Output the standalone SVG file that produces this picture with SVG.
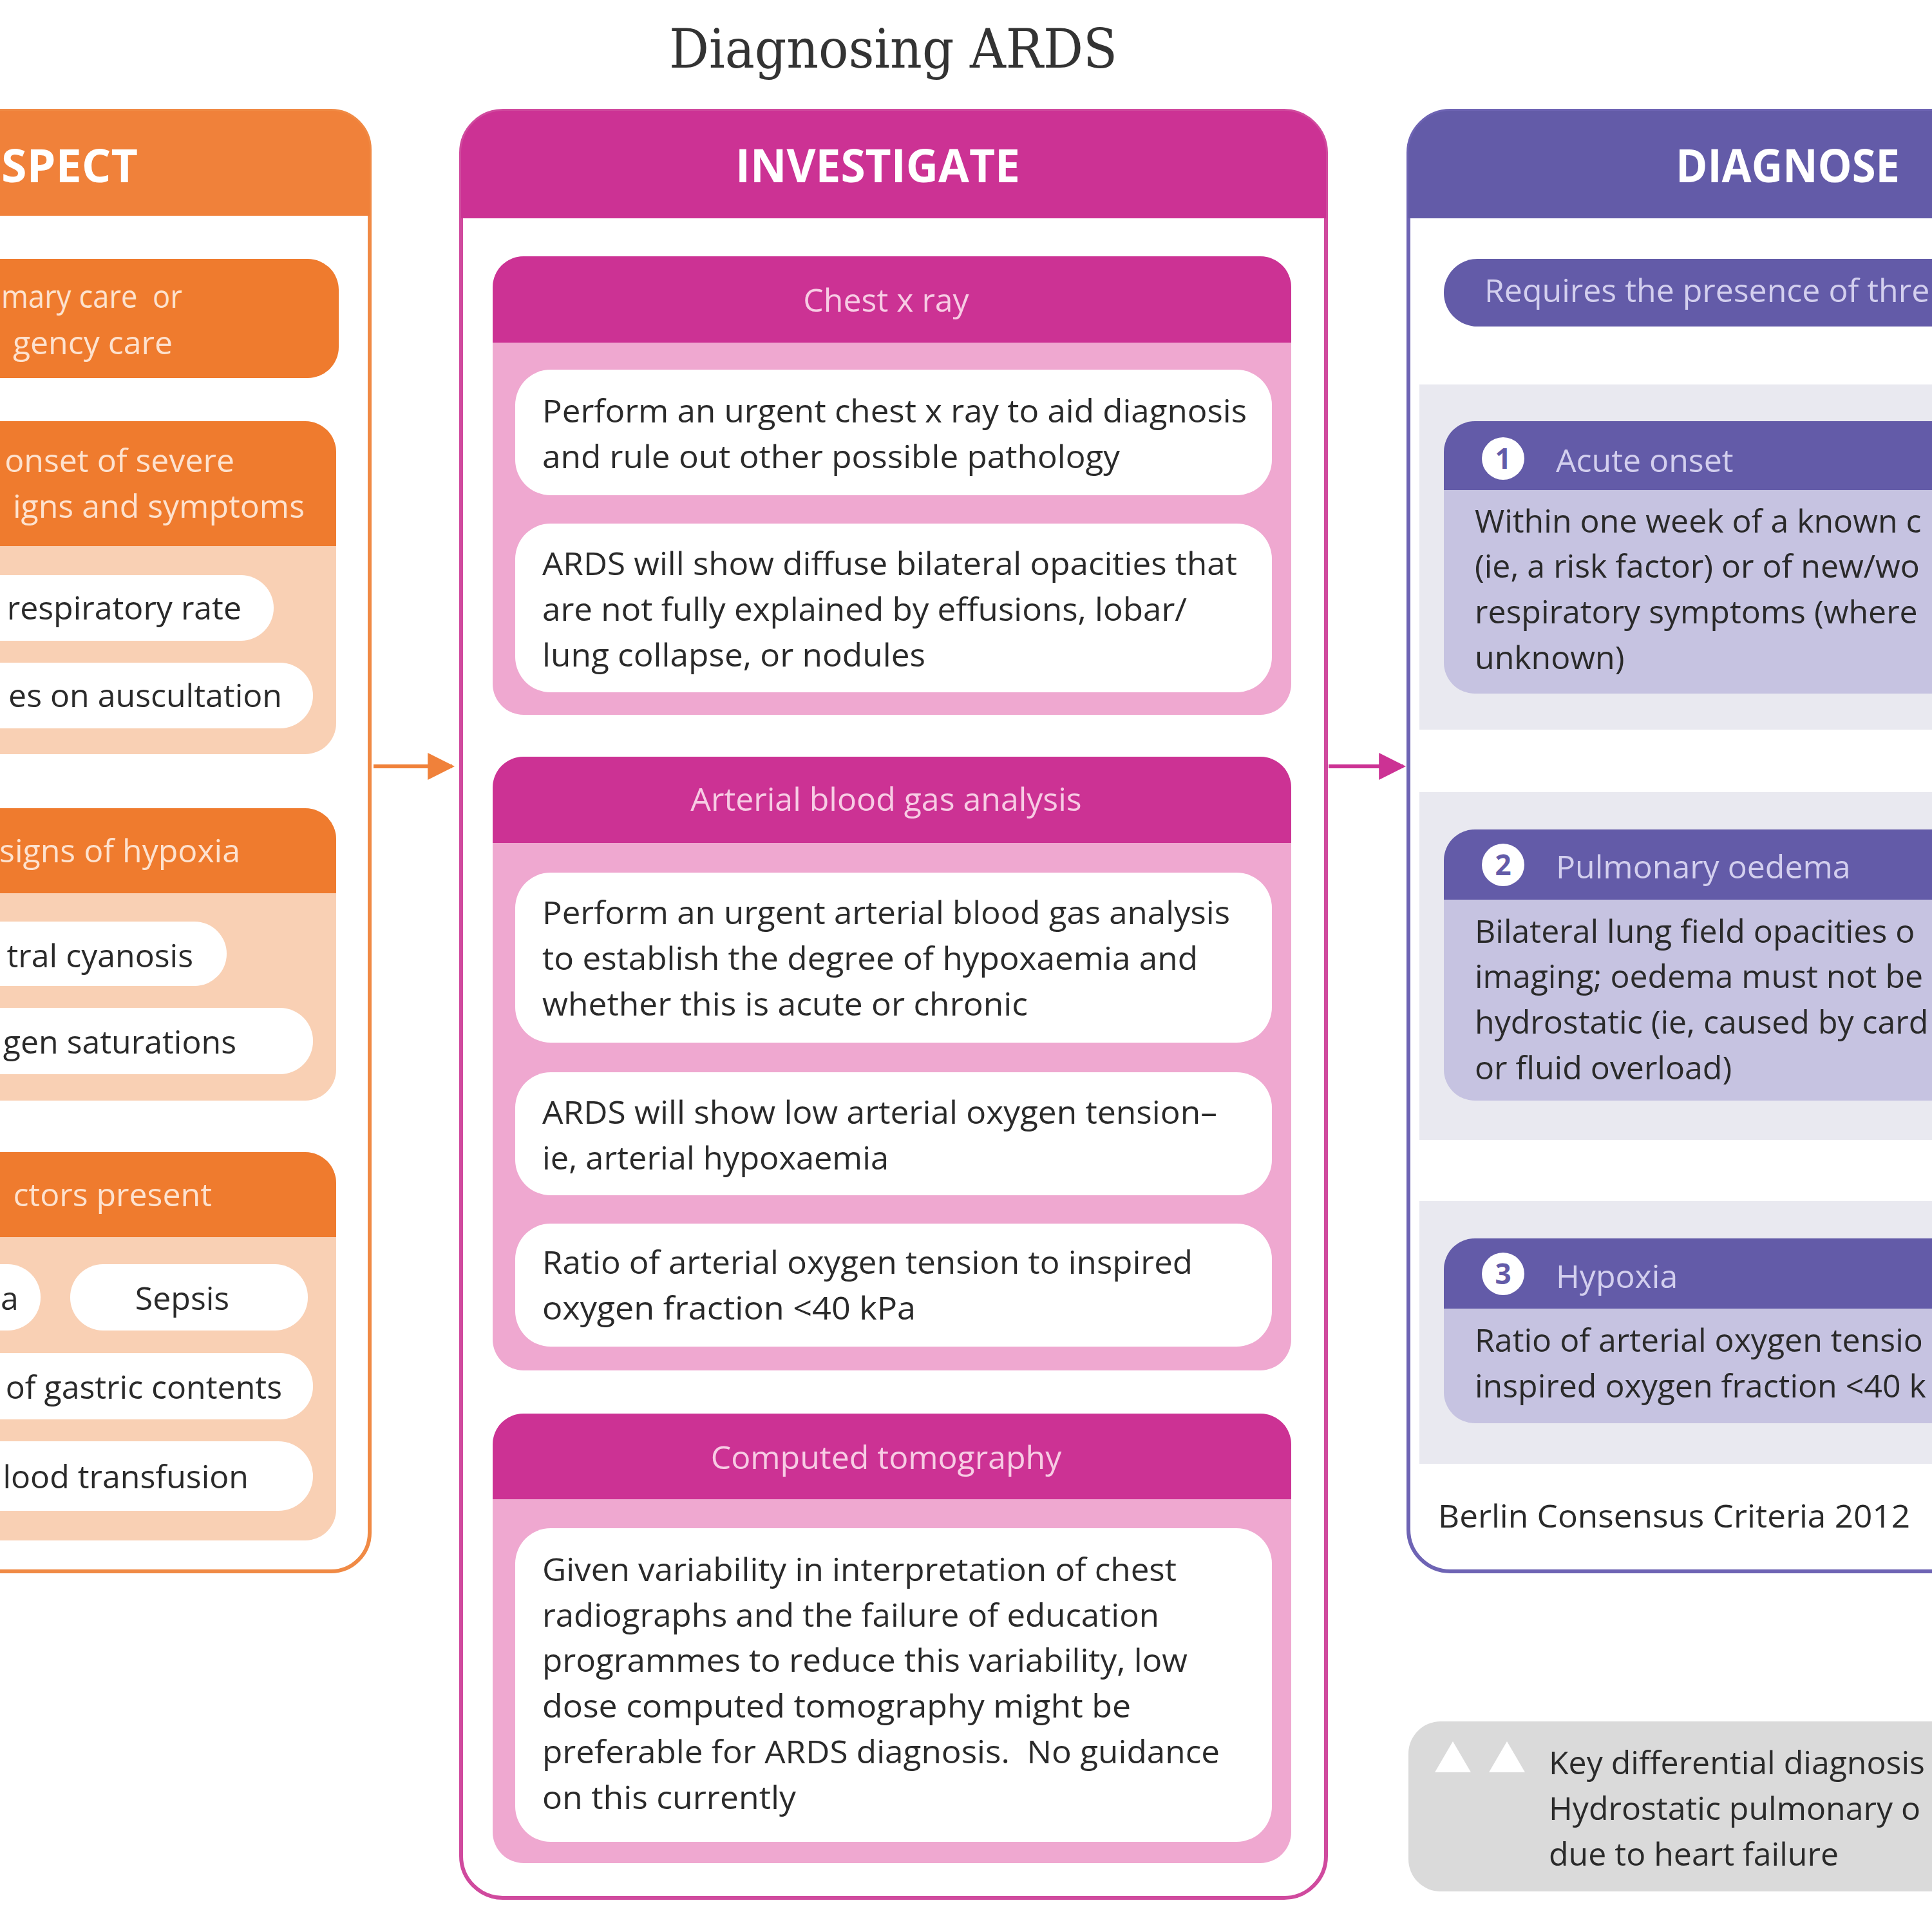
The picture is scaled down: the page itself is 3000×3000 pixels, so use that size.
<svg xmlns="http://www.w3.org/2000/svg" width="3000" height="3000" viewBox="0 0 3000 3000">
<defs>
<style>
.t{font-family:"Open Sans","Noto Sans","Liberation Sans",sans-serif;font-size:50px;fill:#2a2a2a}
.hd{font-family:"Open Sans","Noto Sans","Liberation Sans",sans-serif;font-size:72px;font-weight:700;fill:#ffffff}
.ot{fill:#fde2cf}
.pt{fill:#f7cce4}
.vt{fill:#d3cfee}
.org{fill:#f0813a}
.orb{fill:#ef7b2e}
.pch{fill:#f9d0b4}
.mag{fill:#cc3294}
.lpk{fill:#efa8d0}
.pur{fill:#635ba8}
.lav{fill:#c6c3e1}
.band{fill:#e9e9f0}
.wh{fill:#ffffff}
.num{font-family:"Open Sans","Liberation Sans",sans-serif;font-size:44px;font-weight:700;fill:#635ba8}
</style>
<marker id="ao" viewBox="0 0 10 10" refX="9" refY="5" markerWidth="7" markerHeight="8" markerUnits="strokeWidth" orient="auto"><path d="M0,0 L10,5 L0,10 Z" fill="#f0813a"/></marker>
<marker id="ap" viewBox="0 0 10 10" refX="9" refY="5" markerWidth="7" markerHeight="8" markerUnits="strokeWidth" orient="auto"><path d="M0,0 L10,5 L0,10 Z" fill="#cc3294"/></marker>
</defs>
<rect width="3000" height="3000" fill="#ffffff"/>
<g id="title">
<text x="1039" y="105" font-family="DejaVu Serif, Liberation Serif, serif" font-size="84" fill="#333333" textLength="696" lengthAdjust="spacingAndGlyphs">Diagnosing ARDS</text>
</g>

<g id="suspect">
<rect x="-60" y="172" width="634" height="2268" rx="60" fill="#ffffff" stroke="#f08a45" stroke-width="6"/>
<path class="org" d="M-60 335 V172 H514 A60 60 0 0 1 574 232 V335 Z"/>
<text class="hd" x="214" y="283" text-anchor="end" textLength="212" lengthAdjust="spacingAndGlyphs">SPECT</text>
<g id="s-presents">
<rect class="orb" x="-60" y="402" width="586" height="185" rx="48"/>
<text class="t ot" x="2" y="478" xml:space="preserve" textLength="281" lengthAdjust="spacingAndGlyphs">mary care  or</text>
<text class="t ot" x="268" y="550" text-anchor="end">gency care</text>
</g>
<g id="s-onset">
<rect class="pch" x="-60" y="654" width="582" height="517" rx="48"/>
<path class="orb" d="M-60 848 V654 H474 A48 48 0 0 1 522 702 V848 Z"/>
<text class="t ot" x="364" y="733" text-anchor="end">onset of severe</text>
<text class="t ot" x="473" y="804" text-anchor="end">igns and symptoms</text>
<rect class="wh" x="-60" y="893" width="485" height="102" rx="51"/>
<text class="t" x="375" y="962" text-anchor="end">respiratory rate</text>
<rect class="wh" x="-60" y="1029" width="546" height="102" rx="51"/>
<text class="t" x="438" y="1098" text-anchor="end">es on auscultation</text>
</g>
<g id="s-hypoxia">
<rect class="pch" x="-60" y="1255" width="582" height="454" rx="48"/>
<path class="orb" d="M-60 1387 V1255 H474 A48 48 0 0 1 522 1303 V1387 Z"/>
<text class="t ot" x="373" y="1339" text-anchor="end">signs of hypoxia</text>
<rect class="wh" x="-60" y="1431" width="412" height="100" rx="50"/>
<text class="t" x="300" y="1502" text-anchor="end">tral cyanosis</text>
<rect class="wh" x="-60" y="1565" width="546" height="103" rx="51"/>
<text class="t" x="367" y="1636" text-anchor="end">gen saturations</text>
</g>
<g id="s-risk">
<rect class="pch" x="-60" y="1789" width="582" height="603" rx="48"/>
<path class="orb" d="M-60 1921 V1789 H474 A48 48 0 0 1 522 1837 V1921 Z"/>
<text class="t ot" x="329" y="1873" text-anchor="end">ctors present</text>
<rect class="wh" x="-60" y="1963" width="123" height="103" rx="51"/>
<text class="t" x="1" y="2034">a</text>
<rect class="wh" x="109" y="1963" width="369" height="103" rx="51"/>
<text class="t" x="283" y="2034" text-anchor="middle">Sepsis</text>
<rect class="wh" x="-60" y="2101" width="546" height="103" rx="51"/>
<text class="t" x="438" y="2172" text-anchor="end">of gastric contents</text>
<rect class="wh" x="-60" y="2238" width="546" height="108" rx="54"/>
<text class="t" x="386" y="2311" text-anchor="end">lood transfusion</text>
</g>
</g>

<g id="investigate">
<rect x="716" y="172" width="1343" height="2775" rx="65" fill="#ffffff" stroke="#d04a9e" stroke-width="6"/>
<path class="mag" d="M716 339 V237 A65 65 0 0 1 781 172 H1994 A65 65 0 0 1 2059 237 V339 Z"/>
<text class="hd" x="1363" y="283" text-anchor="middle" textLength="442" lengthAdjust="spacingAndGlyphs">INVESTIGATE</text>
<g id="i-cxr">
<rect class="lpk" x="765" y="398" width="1240" height="712" rx="48"/>
<path class="mag" d="M765 532 V446 A48 48 0 0 1 813 398 H1957 A48 48 0 0 1 2005 446 V532 Z"/>
<text class="t pt" x="1376" y="484" text-anchor="middle">Chest x ray</text>
<rect class="wh" x="800" y="574" width="1175" height="195" rx="55"/>
<text class="t" x="842" y="656" textLength="1094" lengthAdjust="spacingAndGlyphs">Perform an urgent chest x ray to aid diagnosis</text>
<text class="t" x="842" y="727" textLength="897" lengthAdjust="spacingAndGlyphs">and rule out other possible pathology</text>
<rect class="wh" x="800" y="813" width="1175" height="262" rx="55"/>
<text class="t" x="842" y="893" textLength="1079" lengthAdjust="spacingAndGlyphs">ARDS will show diffuse bilateral opacities that</text>
<text class="t" x="842" y="964" textLength="1001" lengthAdjust="spacingAndGlyphs">are not fully explained by effusions, lobar/</text>
<text class="t" x="842" y="1035" textLength="595" lengthAdjust="spacingAndGlyphs">lung collapse, or nodules</text>
</g>
<g id="i-abg">
<rect class="lpk" x="765" y="1175" width="1240" height="953" rx="48"/>
<path class="mag" d="M765 1309 V1223 A48 48 0 0 1 813 1175 H1957 A48 48 0 0 1 2005 1223 V1309 Z"/>
<text class="t pt" x="1376" y="1259" text-anchor="middle">Arterial blood gas analysis</text>
<rect class="wh" x="800" y="1355" width="1175" height="264" rx="55"/>
<text class="t" x="842" y="1435" textLength="1068" lengthAdjust="spacingAndGlyphs">Perform an urgent arterial blood gas analysis</text>
<text class="t" x="842" y="1506" textLength="1018" lengthAdjust="spacingAndGlyphs">to establish the degree of hypoxaemia and</text>
<text class="t" x="842" y="1577" textLength="754" lengthAdjust="spacingAndGlyphs">whether this is acute or chronic</text>
<rect class="wh" x="800" y="1665" width="1175" height="191" rx="55"/>
<text class="t" x="842" y="1745" textLength="1048" lengthAdjust="spacingAndGlyphs">ARDS will show low arterial oxygen tension–</text>
<text class="t" x="842" y="1816" textLength="538" lengthAdjust="spacingAndGlyphs">ie, arterial hypoxaemia</text>
<rect class="wh" x="800" y="1900" width="1175" height="191" rx="55"/>
<text class="t" x="842" y="1978" textLength="1010" lengthAdjust="spacingAndGlyphs">Ratio of arterial oxygen tension to inspired</text>
<text class="t" x="842" y="2049" textLength="580" lengthAdjust="spacingAndGlyphs">oxygen fraction &lt;40 kPa</text>
</g>
<g id="i-ct">
<rect class="lpk" x="765" y="2195" width="1240" height="698" rx="48"/>
<path class="mag" d="M765 2328 V2243 A48 48 0 0 1 813 2195 H1957 A48 48 0 0 1 2005 2243 V2328 Z"/>
<text class="t pt" x="1376" y="2281" text-anchor="middle">Computed tomography</text>
<rect class="wh" x="800" y="2373" width="1175" height="487" rx="55"/>
<text class="t" x="842" y="2455" textLength="985" lengthAdjust="spacingAndGlyphs">Given variability in interpretation of chest</text>
<text class="t" x="842" y="2526" textLength="958" lengthAdjust="spacingAndGlyphs">radiographs and the failure of education</text>
<text class="t" x="842" y="2596" textLength="1002" lengthAdjust="spacingAndGlyphs">programmes to reduce this variability, low</text>
<text class="t" x="842" y="2667" textLength="914" lengthAdjust="spacingAndGlyphs">dose computed tomography might be</text>
<text class="t" x="842" y="2738" xml:space="preserve" textLength="1052" lengthAdjust="spacingAndGlyphs">preferable for ARDS diagnosis.  No guidance</text>
<text class="t" x="842" y="2809" textLength="394" lengthAdjust="spacingAndGlyphs">on this currently</text>
</g>
</g>

<g id="diagnose">
<rect x="2187" y="172" width="900" height="2268" rx="65" fill="#ffffff" stroke="#6e64b4" stroke-width="6"/>
<path class="pur" d="M2187 339 V237 A65 65 0 0 1 2252 172 H3100 V339 Z"/>
<text class="hd" x="2602" y="283" textLength="348" lengthAdjust="spacingAndGlyphs">DIAGNOSE</text>
<rect class="pur" x="2242" y="402" width="858" height="105" rx="52"/>
<text class="t vt" x="2305" y="469">Requires the presence of thre</text>
<rect class="band" x="2204" y="597" width="796" height="536"/>
<rect class="band" x="2204" y="1230" width="796" height="540"/>
<rect class="band" x="2204" y="1865" width="796" height="408"/>
<g id="d-onset">
<rect class="lav" x="2242" y="654" width="858" height="423" rx="48"/>
<path class="pur" d="M2242 761 V702 A48 48 0 0 1 2290 654 H3100 V761 Z"/>
<circle class="wh" cx="2334" cy="712" r="33"/>
<text class="num" x="2334" y="728" text-anchor="middle">1</text>
<text class="t vt" x="2416" y="733">Acute onset</text>
<text class="t" x="2290" y="827">Within one week of a known c</text>
<text class="t" x="2290" y="897">(ie, a risk factor) or of new/wo</text>
<text class="t" x="2290" y="968">respiratory symptoms (where</text>
<text class="t" x="2290" y="1039">unknown)</text>
</g>
<g id="d-oedema">
<rect class="lav" x="2242" y="1288" width="858" height="421" rx="48"/>
<path class="pur" d="M2242 1397 V1336 A48 48 0 0 1 2290 1288 H3100 V1397 Z"/>
<circle class="wh" cx="2334" cy="1343" r="33"/>
<text class="num" x="2334" y="1359" text-anchor="middle">2</text>
<text class="t vt" x="2416" y="1364">Pulmonary oedema</text>
<text class="t" x="2290" y="1464">Bilateral lung field opacities o</text>
<text class="t" x="2290" y="1534">imaging; oedema must not be</text>
<text class="t" x="2290" y="1605">hydrostatic (ie, caused by card</text>
<text class="t" x="2290" y="1676">or fluid overload)</text>
</g>
<g id="d-hypoxia">
<rect class="lav" x="2242" y="1923" width="858" height="287" rx="48"/>
<path class="pur" d="M2242 2032 V1971 A48 48 0 0 1 2290 1923 H3100 V2032 Z"/>
<circle class="wh" cx="2334" cy="1978" r="33"/>
<text class="num" x="2334" y="1994" text-anchor="middle">3</text>
<text class="t vt" x="2416" y="2000">Hypoxia</text>
<text class="t" x="2290" y="2099">Ratio of arterial oxygen tensio</text>
<text class="t" x="2290" y="2170">inspired oxygen fraction &lt;40 k</text>
</g>
<text class="t" x="2233" y="2372" textLength="733" lengthAdjust="spacingAndGlyphs">Berlin Consensus Criteria 2012</text>
</g>

<g id="differential">
<rect x="2187" y="2673" width="913" height="264" rx="50" fill="#dadada"/>
<polygon class="wh" points="2228,2752 2256,2704 2284,2752"/>
<polygon class="wh" points="2312,2752 2340,2704 2368,2752"/>
<text class="t" x="2405" y="2755">Key differential diagnosis</text>
<text class="t" x="2405" y="2826">Hydrostatic pulmonary o</text>
<text class="t" x="2405" y="2897">due to heart failure</text>
</g>

<g id="connectors">
<line x1="580" y1="1190" x2="702" y2="1190" stroke="#f0813a" stroke-width="6" marker-end="url(#ao)"/>
<line x1="2063" y1="1190" x2="2179" y2="1190" stroke="#cc3294" stroke-width="6" marker-end="url(#ap)"/>
</g>
</svg>
